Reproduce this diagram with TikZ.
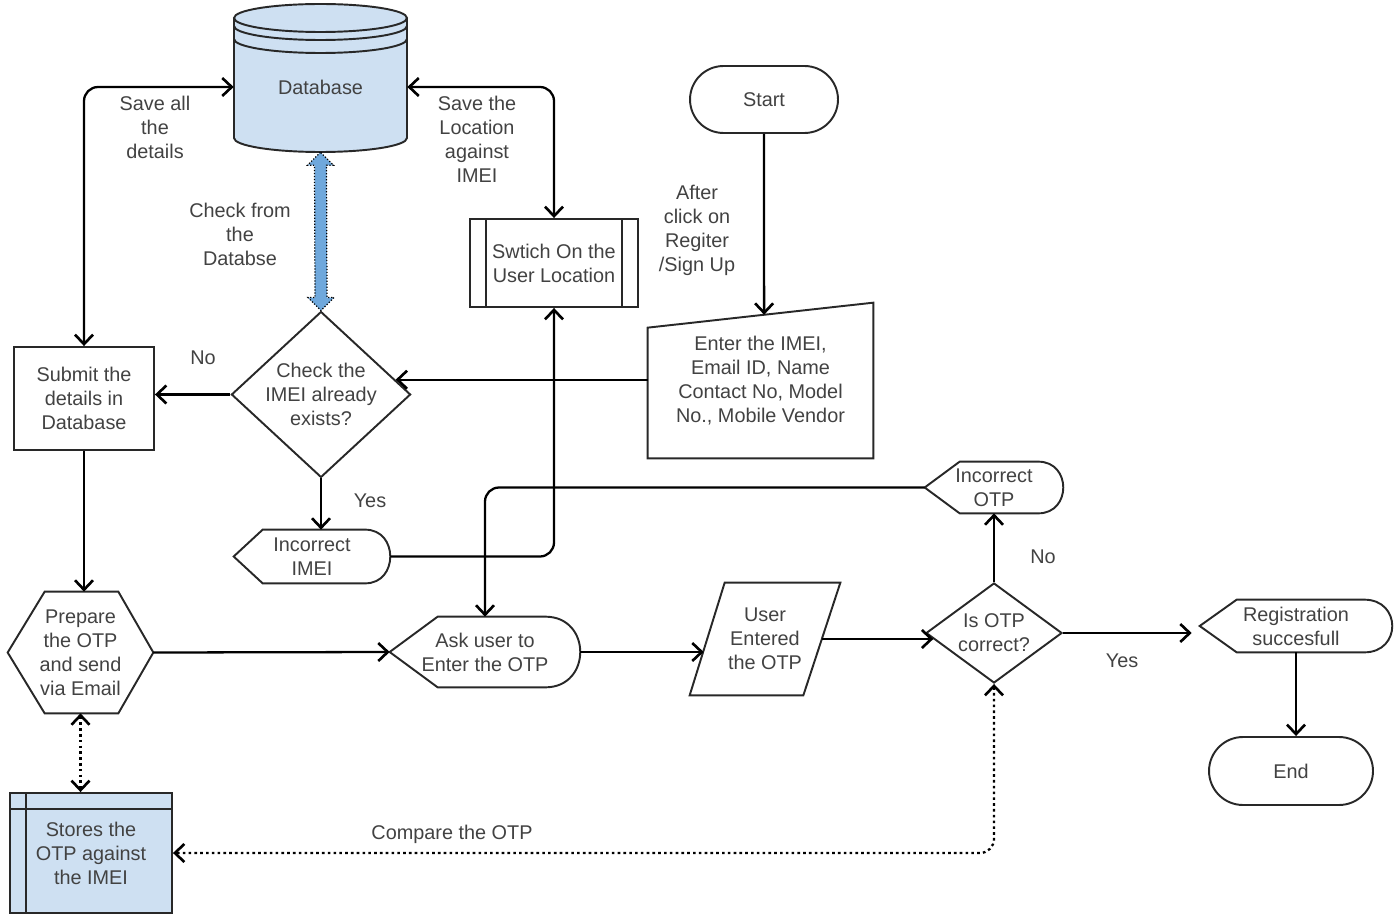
\documentclass[tikz,border=0pt]{standalone}
\usepackage{fontspec}
\setmainfont{Liberation Sans}
\usetikzlibrary{calc,arrows.meta,shapes.geometric,shapes.misc}
\definecolor{txt}{RGB}{66,66,66}
\definecolor{ln}{RGB}{40,40,40}
\definecolor{dbblue}{RGB}{206,224,242}
\definecolor{flexblue}{RGB}{111,168,220}
\begin{document}
\begin{tikzpicture}[x=0.02cm,y=-0.02cm,
  every node/.style={font=\fontsize{11.3}{13.7}\selectfont,text=txt,align=center,inner sep=0pt},
  box/.style={draw=ln,line width=1.1pt},
  conn/.style={draw=black,line width=1.3pt,rounded corners=8pt,>={Straight Barb[length=1.9mm,width=3.6mm,line width=1.5pt]}},
  dots/.style={conn,dash pattern=on 1.5pt off 1.8pt},
  flex/.style={fill=flexblue,draw=black,line width=0.7pt,densely dotted}]
\useasboundingbox (0,0) rectangle (1398,915);
\draw[box,fill=dbblue] (234,18) -- (234,138) arc[start angle=180,end angle=360,x radius=1.73cm,y radius=0.28cm] -- (407,18);
\draw[box,fill=dbblue] (320.5,18) ellipse[x radius=1.73cm,y radius=0.28cm];
\draw[box] (234,26) arc[start angle=180,end angle=360,x radius=1.73cm,y radius=0.28cm];
\draw[box] (234,39) arc[start angle=180,end angle=360,x radius=1.73cm,y radius=0.28cm];
\node (db) [minimum width=3.46cm,minimum height=2.6cm] at (320.5,87) {Database};
\node (chk) [diamond,box,minimum width=3.44cm,minimum height=3.18cm,aspect=1.08] at (321,394.5) {Check the\\IMEI already\\exists?};
\node (sub) [box,minimum width=2.8cm,minimum height=2.06cm] at (84,398.5) {Submit the\\details in\\Database};
\node (sw) [box,minimum width=3.36cm,minimum height=1.76cm] at (554,263) {Swtich On the\\User Location};
\draw[box] ($(sw.north west)+(17,0)$) -- ($(sw.south west)+(17,0)$) ($(sw.north east)+(-17,0)$) -- ($(sw.south east)+(-17,0)$);
\node (st) [rounded rectangle,box,minimum width=2.96cm,minimum height=1.34cm] at (764,99.5) {Start};
\node (en) [rounded rectangle,box,minimum width=3.28cm,minimum height=1.36cm] at (1291,771) {End};
\node (inp) [minimum width=4.5cm,minimum height=3.1cm] at (760.5,380.5) {Enter the IMEI,\\Email ID, Name\\Contact No, Model\\No., Mobile Vendor};
\coordinate (inl) at ($(inp.north west)+(0,25)$);
\draw[box] (inl) -- (inp.north east) -- (inp.south east) -- (inp.south west) -- cycle;
\node (iim) [minimum width=3.12cm,minimum height=1.06cm] at (312,556.5) {Incorrect\\IMEI};
\node (iot) [minimum width=2.76cm,minimum height=1.02cm] at (994,487.5) {Incorrect\\OTP};
\node (reg) [minimum width=3.84cm,minimum height=1.04cm] at (1296,626) {Registration\\succesfull};
\node (ask) [minimum width=3.8cm,minimum height=1.4cm] at (485,652) {Ask user to\\Enter the OTP};
\foreach \n/\t/\r in {iim/29/25,iot/35/25,reg/37/28,ask/48/35}
  \draw[box] (\n.west) -- ($(\n.north west)+(\t,0)$) -- ($(\n.north east)+(-\r,0)$)
    .. controls ($(\n.north east)+(0.33*\r,0)$) and ($(\n.south east)+(0.33*\r,0)$) .. ($(\n.south east)+(-\r,0)$)
    -- ($(\n.south west)+(\t,0)$) -- cycle;
\node (prep) [minimum width=2.9cm,minimum height=2.42cm] at (80.5,652.5) {Prepare\\the OTP\\and send\\via Email};
\draw[box] (prep.west) -- ($(prep.north west)+(37,0)$) -- ($(prep.north east)+(-35,0)$) -- (prep.east) -- ($(prep.south east)+(-35,0)$) -- ($(prep.south west)+(37,0)$) -- cycle;
\node (ue) [minimum width=3cm,minimum height=2.24cm] at (765,639) {User\\Entered\\the OTP};
\draw[box] (ue.south west) -- ($(ue.north west)+(35,0)$) -- (ue.north east) -- ($(ue.south east)+(-37,0)$) -- cycle;
\node (otp) [diamond,box,minimum width=2.72cm,minimum height=2cm,aspect=1.36] at (994,633) {Is OTP\\correct?};
\node (sto) [box,fill=dbblue,minimum width=3.24cm,minimum height=2.4cm] at (91,853) {Stores the\\OTP against\\the IMEI};
\draw[box] ($(sto.north west)+(17,0)$) -- ($(sto.south west)+(17,0)$) ($(sto.north west)+(0,17)$) -- ($(sto.north east)+(0,17)$);
\draw[flex] (db.south) -- ++(-13,13) -- ++(7,0) -- ($(chk.north)+(-6,-13)$) -- ++(-7,0) -- (chk.north) -- ++(13,-13) -- ++(-7,0) -- ($(db.south)+(6,13)$) -- ++(7,0) -- cycle;
\coordinate (ci) at ($(chk.east)!0.176!(chk.north)$);
\coordinate (it) at ($(inl)!0.516!(inp.north east)$);
\coordinate (ueL) at ($($(ue.north west)+(35,0)$)!0.6!(ue.south west)$);
\coordinate (ueR) at ($(ue.north east)!0.5!($(ue.south east)+(-37,0)$)$);
\coordinate (otpL) at ($(otp.west)!0.12!(otp.south)$);
\draw[conn,<->] (sub.north) |- (db.west);
\draw[conn,<->] (db.east) -| (sw.north);
\draw[conn,->] (st.south) -- (it);
\draw[conn,->] (inp.west |- ci) -- (ci);
\draw[conn,->] (chk.west) -- (chk.west -| sub.east);
\draw[conn,->] (chk.south) -- (chk.south |- iim.north);
\draw[conn,->] (iim.east) -| (sw.south);
\draw[conn,->] (sub.south) -- (sub.south |- prep.north);
\draw[conn,->] (prep.east) -- (ask.west);
\draw[conn,->] (ask.east) -- (ask.east -| ueL);
\draw[conn,->] (ueR) -- (ueR -| otpL);
\draw[conn,->] (otp.north) -- (iot.south);
\draw[conn,->] (iot.west) -| (ask.north);
\draw[conn,->] (otp.east) -- ($(otp.east -| reg.west)+(-8,0)$);
\draw[conn,->] (reg.south) -- (reg.south |- en.north);
\draw[dots,<->] (prep.south) -- (prep.south |- sto.north);
\draw[dots,<->] (otp.south) |- (sto.east);
\node (l1) at (155,127) {Save all\\the\\details};
\node (l2) at (477,139) {Save the\\Location\\against\\IMEI};
\node (l3) at (240,234) {Check from\\the\\Databse};
\node (l4) at (697,230) {After\\click on\\Regiter\\/Sign Up};
\node (l5) at (203,358) {No};
\node (l6) at (370,501) {Yes};
\node (l7) at (1043,557) {No};
\node (l8) at (1122,661) {Yes};
\node (l9) at (452,834) {Compare the OTP};
\end{tikzpicture}
\end{document}
